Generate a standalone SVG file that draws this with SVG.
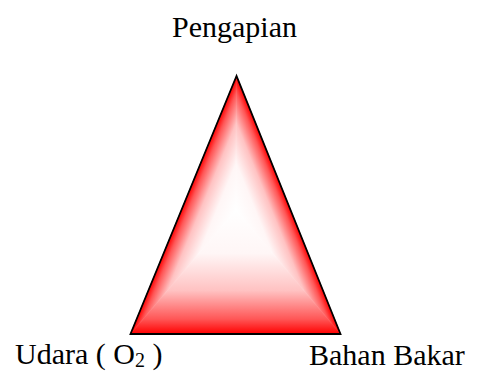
<svg xmlns="http://www.w3.org/2000/svg" width="480" height="371" viewBox="0 0 480 371">
  <style>
    .lbl { font-family: "Liberation Serif", "Times New Roman", serif; font-size: 30px; fill: #000; }
  </style>
  <defs>
    <linearGradient id="gB" gradientUnits="userSpaceOnUse" x1="236" y1="210" x2="236" y2="334">
      <stop offset="0" stop-color="#ffffff"/>
      <stop offset="0.35" stop-color="#fff6f6"/>
      <stop offset="0.65" stop-color="#ffc2c2"/>
      <stop offset="0.88" stop-color="#ff5656"/>
      <stop offset="1" stop-color="#ff0000"/>
    </linearGradient>
    <linearGradient id="gL" href="#gB" x1="236" y1="210" x2="189.33" y2="190.82"/>
    <linearGradient id="gR" href="#gB" x1="236" y1="210" x2="282.89" y2="191.09"/>
  </defs>
  <g id="triangle">
    <polygon points="236,210 236.5,76 130.5,334" fill="url(#gL)" stroke="url(#gL)" stroke-width="0.6"/>
    <polygon points="236,210 236.5,76 340.5,334" fill="url(#gR)" stroke="url(#gR)" stroke-width="0.6"/>
    <polygon points="236,210 130.5,334 340.5,334" fill="url(#gB)" stroke="url(#gB)" stroke-width="0.6"/>
    <polygon points="236.5,76 130.5,334 340.5,334" fill="none" stroke="#000" stroke-width="1.8" stroke-linejoin="miter"/>
  </g>
  <g id="label-pengapian">
    <text class="lbl" x="172" y="37">Pengapian</text>
  </g>
  <g id="label-udara">
    <text class="lbl" x="15" y="364">Udara ( O<tspan font-size="20" dy="3">2</tspan><tspan dy="-3"> )</tspan></text>
  </g>
  <g id="label-bahan-bakar">
    <text class="lbl" x="309" y="365">Bahan Bakar</text>
  </g>
</svg>
